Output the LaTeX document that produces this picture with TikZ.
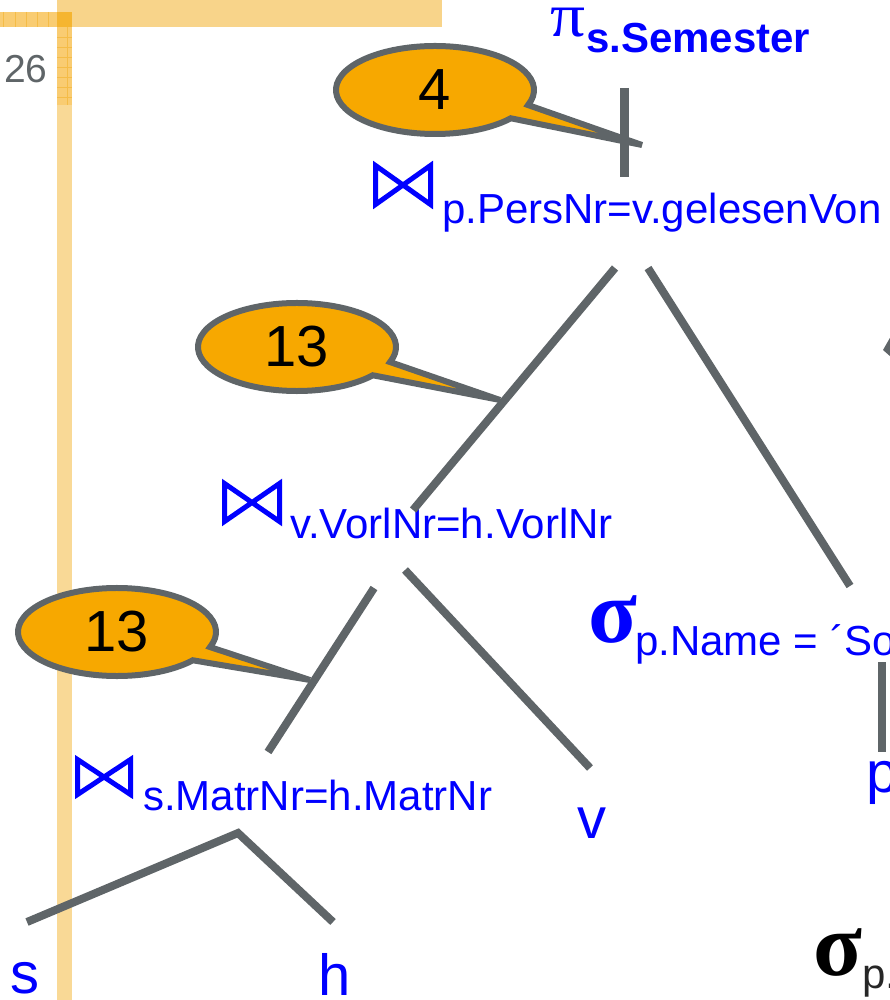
\documentclass[tikz,border=0pt]{standalone}
\usepackage{fontspec}
\setmainfont{Liberation Sans}
\newfontfamily\greekserif{Liberation Serif}
\definecolor{edgegray}{HTML}{5F6568}
\definecolor{qblue}{HTML}{0000FF}
\definecolor{bubblefill}{HTML}{F7A800}
\definecolor{barlight}{HTML}{F9D996}
\definecolor{bartop}{HTML}{F8D48A}
\definecolor{gridband}{HTML}{F9CC72}
\definecolor{gridline}{HTML}{F4BC48}
\definecolor{overlapc}{HTML}{F5B530}
\tikzset{
  edge/.style={draw=edgegray, line width=8pt, line cap=butt},
  bowtie/.style={draw=qblue, line width=5pt, line join=miter},
  sub/.style={anchor=base west, inner sep=0pt, text=qblue, font=\fontsize{42}{48}\selectfont},
  leaf/.style={anchor=base west, inner sep=0pt, text=qblue, font=\fontsize{58}{64}\selectfont},
  sigmastyle/.style={anchor=base west, inner sep=0pt, font=\greekserif\bfseries\fontsize{90}{96}\selectfont},
  callout/.style={draw=edgegray, line width=6pt, fill=bubblefill, line join=miter},
  callouttext/.style={inner sep=0pt, font=\fontsize{58}{64}\selectfont, text=black},
  gridln/.style={draw=gridline, line width=0.8pt},
}
\newcommand{\mybubble}[4]{%
  \draw[callout] (#2) ++(-20:99 and 44) arc[start angle=-20, end angle=320, x radius=99, y radius=44] -- (#3) -- cycle;
  \node[callouttext] (#1) at (#2) {#4};
}
\begin{document}
\begin{tikzpicture}[x=1pt,y=1pt]
\useasboundingbox (0,0) rectangle (890,-1000);
\clip (0,0) rectangle (890,-1000);
% slide decoration
\fill[bartop] (57,0) rectangle (442,-27);
\fill[barlight] (57,-27) rectangle (72,-1000);
\fill[gridband] (0,-12) rectangle (57,-27);
\fill[gridband] (57,-27) rectangle (72,-105);
\fill[overlapc] (57,-12) rectangle (72,-27);
\foreach \x in {3,15,26,37,48} \draw[gridln] (\x,-12) -- (\x,-27);
\foreach \y in {37,47,57,67,77,87,97} \draw[gridln] (57,-\y) -- (72,-\y);
\draw[gridln] (67,-27) -- (67,-105);
% page number
\node[anchor=base west, inner sep=0pt, text=edgegray, font=\fontsize{39}{44}\selectfont] (pagenum) at (4,-83) {26};
% projection
\node[anchor=base west, inner sep=0pt, text=qblue, xscale=1.12, font=\greekserif\fontsize{62}{66}\selectfont] (pi) at (550,-37) {π};
\node[anchor=base west, inner sep=0pt, text=qblue, font=\bfseries\fontsize{42}{48}\selectfont] (proj) at (586,-53) {s.Semester};
% joins
\draw[bowtie] (375.5,-165.5) -- (430.5,-204.5) -- (430.5,-165.5) -- (375.5,-204.5) -- cycle;
\node[sub] (join1) at (442,-224) {p.PersNr=v.gelesenVon};
\draw[bowtie] (224.5,-483.5) -- (279.5,-521.5) -- (279.5,-483.5) -- (224.5,-521.5) -- cycle;
\node[sub] (join2) at (290,-538) {v.VorlNr=h.VorlNr};
\draw[bowtie] (77.5,-759.5) -- (130.5,-794.5) -- (130.5,-759.5) -- (77.5,-794.5) -- cycle;
\node[sub] (join3) at (143,-810) {s.MatrNr=h.MatrNr};
% selections
\node[sigmastyle, text=qblue] (sigma) at (588,-642) {σ};
\node[sub] (sel) at (635,-655) {p.Name = ´So};
\node[sigmastyle, text=black] (sigmab) at (813,-975) {σ};
\node[anchor=base west, inner sep=0pt, text=black!85, font=\fontsize{42}{48}\selectfont] (selb) at (862,-988) {p.};
% leaves
\node[leaf] (p) at (866,-792) {p};
\node[leaf] (v) at (577,-838) {v};
\node[leaf] (s) at (10,-993) {s};
\node[leaf] (h) at (318,-995) {h};
% callouts
\coordinate (c4) at (435,-90);
\coordinate (t4) at (642,-145);
\coordinate (c13a) at (297,-347);
\coordinate (t13a) at (500,-400);
\coordinate (c13b) at (117,-632);
\coordinate (t13b) at (310,-680);
\mybubble{b4}{c4}{t4}{4}
\mybubble{b13a}{c13a}{t13a}{13}
\mybubble{b13b}{c13b}{t13b}{13}
% partial tail at right edge
\fill[edgegray] (883,-350) -- (891,-336) -- (891,-357) -- cycle;
% edge endpoints
\coordinate (piB) at (624,-88);
\coordinate (j1T) at (624,-177);
\coordinate (j1L) at (615,-268);
\coordinate (j2T) at (413,-510);
\coordinate (j1R) at (648,-268);
\coordinate (selT) at (850,-586);
\coordinate (selB) at (882,-662);
\coordinate (pT) at (882,-752);
\coordinate (j2L) at (374,-588);
\coordinate (j3T) at (268,-752);
\coordinate (j2R) at (405,-570);
\coordinate (vT) at (590,-768);
\coordinate (j3B) at (238,-833);
\coordinate (sT) at (27,-922);
\coordinate (hT) at (333,-922);
\draw[edge, line width=9pt] (piB) -- (j1T);
\draw[edge] (j1L) -- (j2T);
\draw[edge] (j1R) -- (selT);
\draw[edge] (selB) -- (pT);
\draw[edge] (j2L) -- (j3T);
\draw[edge] (j2R) -- (vT);
\draw[edge, line join=miter] (sT) -- (j3B) -- (hT);
\end{tikzpicture}
\end{document}
